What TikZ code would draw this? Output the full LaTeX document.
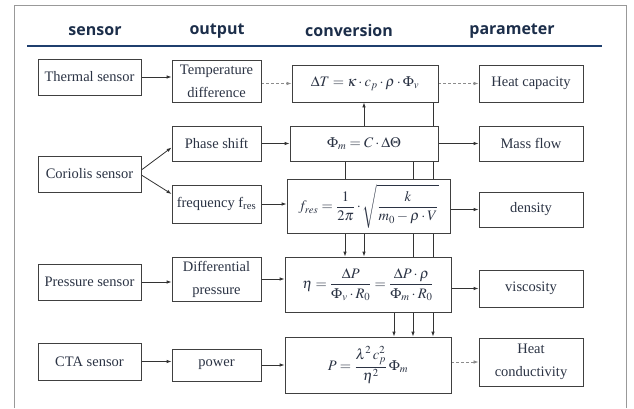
\documentclass[tikz,border=0pt]{standalone}
\usepackage{amsmath}
\usepackage{mathptmx}
\usepackage[no-math]{fontspec}
\setmainfont{Liberation Serif}
\newfontfamily\headfont{Open Sans}
\usepackage{tikz}
\usetikzlibrary{arrows.meta,positioning,backgrounds}
\definecolor{ink}{HTML}{2B3344}
\definecolor{navy}{HTML}{1C2E4A}
\definecolor{rulecol}{HTML}{1F3F6E}

\begin{document}
\begin{tikzpicture}[x=1pt,y=1pt,>={Latex[length=5pt,width=3.5pt]},
  blk/.style={draw=black!75,line width=0.8pt,fill=white,inner sep=1pt,align=center,
    text=ink,font=\fontsize{14.5}{23}\selectfont},
  hd/.style={text=navy,font=\headfont\bfseries\fontsize{16}{18}\selectfont},
  lnk/.style={->,line width=0.8pt,black!80},
  faint/.style={->,line width=0.7pt,black!45,densely dashed}]
\useasboundingbox (0,0) rectangle (634,408);
% ---------- frame and header ----------
\draw[black!40,line width=1pt] (14,0) -- (14,402) -- (626,402) -- (626,0);
\node[hd] (hsens) at (95,377) {sensor};
\node[hd] (hout) at (217,377) {output};
\node[hd] (hconv) at (349,377) {conversion};
\node[hd] (hpar) at (512,377) {parameter};
\draw[rulecol,line width=1.6pt] (27,362) -- (602,362);
% ---------- sensors ----------
\node[blk,minimum width=103,minimum height=36] (thermal) at (89.5,331) {Thermal sensor};
\node[blk,minimum width=103,minimum height=36] (coriolis) at (89.5,234) {Coriolis sensor};
\node[blk,minimum width=103,minimum height=36] (pressure) at (89.5,126) {Pressure sensor};
\node[blk,minimum width=103,minimum height=37] (cta) at (89.5,46.5) {CTA sensor};
% ---------- outputs ----------
\node[blk,minimum width=89,minimum height=42] (tdiff) at (216.5,327) {Temperature\\difference};
\node[blk,minimum width=89,minimum height=35] (phase) at (216.5,264.5) {Phase shift};
\node[blk,minimum width=89,minimum height=38] (freq) at (216.5,204) {frequency f\textsubscript{res}};
\node[blk,minimum width=89,minimum height=44] (dpress) at (216.5,129) {Differential\\pressure};
\node[blk,minimum width=89,minimum height=32] (power) at (216.5,43) {power};
% ---------- conversion ----------
\node[blk,minimum width=146,minimum height=37] (dT) at (365,324.5)
  {$\Delta T=\kappa\cdot c_p\cdot\rho\cdot\Phi_v$};
\node[blk,minimum width=148,minimum height=35] (phim) at (364,264.5)
  {$\Phi_m=C\cdot\Delta\Theta$};
\node[blk,minimum width=163,minimum height=54] (fres) at (368.5,202)
  {$\displaystyle f_{res}=\frac{1}{2\pi}\cdot\sqrt{\frac{k}{m_0-\rho\cdot V}}$};
\node[blk,minimum width=166,minimum height=55] (eta) at (368,123.5)
  {$\displaystyle \eta=\frac{\Delta P}{\Phi_v\cdot R_0}=\frac{\Delta P\cdot\rho}{\Phi_m\cdot R_0}$};
\node[blk,minimum width=166,minimum height=56] (peq) at (368,43)
  {$\displaystyle P=\frac{\lambda^2\,c_p^2}{\eta^2}\,\Phi_m$};
% ---------- parameters ----------
\node[blk,minimum width=104,minimum height=37] (heatcap) at (531,324.5) {Heat capacity};
\node[blk,minimum width=104,minimum height=35] (massflow) at (531,264.5) {Mass flow};
\node[blk,minimum width=104,minimum height=35] (density) at (531,198.5) {density};
\node[blk,minimum width=104,minimum height=37] (viscosity) at (531,119.5) {viscosity};
\node[blk,minimum width=104,minimum height=48] (heatcond) at (531,46) {Heat\\conductivity};
% ---------- connectors ----------
\begin{pgfonlayer}{background}
\draw[lnk] (thermal.east) -- (thermal.east -| tdiff.west);
\draw[faint] (dT.west -| tdiff.east) -- (dT.west);
\draw[faint] (dT.east) -- (heatcap.west);
\draw[lnk] ([yshift=4pt]coriolis.east) -- ([yshift=-4pt]phase.west);
\draw[lnk] ([yshift=-1pt]coriolis.east) -- ([yshift=10pt]freq.west);
\draw[lnk] (phase.east) -- (phim.west);
\draw[lnk] (phim.east) -- (massflow.west);
\draw[lnk] (freq.east) -- (freq.east -| fres.west);
\draw[lnk] (density.west -| fres.east) -- (density.west);
\draw[lnk] (pressure.east) -- (pressure.east -| dpress.west);
\draw[lnk] (dpress.east) -- (dpress.east -| eta.west);
\draw[lnk] (viscosity.west -| eta.east) -- (viscosity.west);
\draw[lnk] (cta.east) -- (cta.east -| power.west);
\draw[lnk] (power.east) -- (power.east -| peq.west);
\draw[faint] (heatcond.west -| peq.east) -- (heatcond.west);
% vertical links between the formulas
\draw[lnk] (phim.north) -- (phim.north |- dT.south);
\draw[lnk] ([xshift=68pt]dT.south) -- ([xshift=68pt]dT.south |- peq.north);
\draw[lnk] ([xshift=49pt]phim.south) -- ([xshift=49pt]phim.south |- peq.north);
\draw[lnk] ([xshift=-19pt]phim.south) -- ([xshift=-19pt]phim.south |- eta.north);
\draw[lnk] ([xshift=-4.5pt]fres.south) -- ([xshift=-4.5pt]fres.south |- eta.north);
\draw[lnk] ([xshift=26pt]eta.south) -- ([xshift=26pt]eta.south |- peq.north);
\end{pgfonlayer}
\end{tikzpicture}
\end{document}
